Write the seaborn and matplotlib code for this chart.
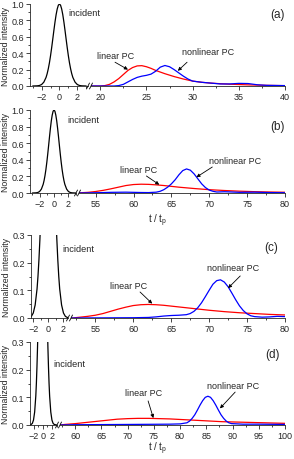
import matplotlib
matplotlib.use("Agg")
import matplotlib.pyplot as plt
from matplotlib.lines import Line2D
from matplotlib.ticker import MultipleLocator, FormatStrFormatter
import seaborn as sns

# incident pulse (same in every panel)
inc_t = [-3.0, -2.5, -2.25, -2.0, -1.75, -1.5, -1.375, -1.25, -1.125, -1.0, -0.875, -0.75,
         -0.625, -0.5, -0.375, -0.25, -0.125, 0.0, 0.125, 0.25, 0.375, 0.5, 0.625, 0.75,
         0.875, 1.0, 1.125, 1.25, 1.375, 1.5, 1.75, 2.0, 2.25, 2.5, 3.0]
inc_v = [0.0, 0.002, 0.006, 0.018, 0.047, 0.105, 0.151, 0.21, 0.282, 0.368, 0.465, 0.57,
         0.677, 0.779, 0.869, 0.939, 0.985, 1.0, 0.985, 0.939, 0.869, 0.779, 0.677, 0.57,
         0.465, 0.368, 0.282, 0.21, 0.151, 0.105, 0.047, 0.018, 0.006, 0.002, 0.0]

# (a)
lin_a_t = [19.0, 20.0, 20.5, 21.0, 21.5, 22.0, 22.5, 23.0, 23.5, 24.0, 24.5, 25.0, 25.5, 26.0,
           27.0, 28.0, 29.0, 30.0, 31.0, 32.0, 33.0, 34.0, 35.0, 36.0, 38.0, 40.0]
lin_a_v = [0.0, 0.0, 0.005, 0.02, 0.05, 0.09, 0.14, 0.19, 0.225, 0.245, 0.248, 0.235, 0.215, 0.19,
           0.15, 0.115, 0.085, 0.06, 0.045, 0.035, 0.028, 0.022, 0.018, 0.014, 0.008, 0.004]
non_a_t = [19.0, 21.5, 22.0, 22.5, 23.0, 23.5, 24.0, 24.5, 25.0, 25.5, 26.0, 26.5, 27.0, 27.5,
           28.0, 28.5, 29.0, 29.5, 30.0, 31.0, 32.0, 33.0, 34.0, 35.0, 36.0, 37.0, 38.0, 40.0]
non_a_v = [0.0, 0.0, 0.005, 0.02, 0.05, 0.08, 0.105, 0.12, 0.13, 0.145, 0.18, 0.23, 0.25, 0.235,
           0.2, 0.16, 0.12, 0.085, 0.06, 0.045, 0.035, 0.025, 0.025, 0.032, 0.03, 0.015, 0.008, 0.005]

# (b)
lin_b_t = [52.8, 53.0, 54.0, 55.0, 56.0, 57.0, 58.0, 59.0, 60.0, 61.0, 62.0, 63.0, 64.0, 65.0,
           66.0, 67.0, 68.0, 69.0, 70.0, 72.0, 74.0, 76.0, 78.0, 80.0]
lin_b_v = [0.002, 0.003, 0.008, 0.018, 0.032, 0.05, 0.07, 0.09, 0.102, 0.106, 0.104, 0.098, 0.09, 0.08,
           0.07, 0.062, 0.054, 0.047, 0.04, 0.03, 0.022, 0.016, 0.012, 0.009]
non_b_t = [52.8, 55.0, 57.0, 59.0, 61.0, 62.0, 63.0, 63.5, 64.0, 64.5, 65.0, 65.5, 66.0, 66.5,
           67.0, 67.5, 68.0, 68.5, 69.0, 69.5, 70.0, 70.5, 71.0, 72.0, 73.0, 74.0, 76.0, 78.0, 80.0]
non_b_v = [0.0, 0.003, 0.008, 0.01, 0.006, 0.005, 0.01, 0.02, 0.04, 0.07, 0.11, 0.16, 0.22, 0.27,
           0.29, 0.275, 0.23, 0.17, 0.11, 0.065, 0.035, 0.02, 0.012, 0.015, 0.012, 0.008, 0.01, 0.005, 0.003]

# (c)
lin_c_t = [51.8, 52.0, 53.0, 54.0, 55.0, 56.0, 57.0, 58.0, 59.0, 60.0, 61.0, 62.0, 63.0, 64.0,
           65.0, 66.0, 67.0, 68.0, 69.0, 70.0, 72.0, 74.0, 76.0, 78.0, 80.0]
lin_c_v = [0.0, 0.0, 0.003, 0.006, 0.01, 0.016, 0.024, 0.032, 0.039, 0.045, 0.048, 0.049, 0.048, 0.046,
           0.043, 0.04, 0.037, 0.034, 0.031, 0.028, 0.023, 0.019, 0.016, 0.013, 0.011]
non_c_t = [51.8, 60.0, 62.0, 63.0, 64.0, 65.0, 66.0, 67.0, 67.5, 68.0, 68.5, 69.0, 69.5, 70.0,
           70.5, 71.0, 71.5, 72.0, 72.5, 73.0, 73.5, 74.0, 74.5, 75.0, 75.5, 76.0, 77.0, 78.0, 79.0, 80.0]
non_c_v = [0.0, 0.001, 0.002, 0.004, 0.007, 0.009, 0.01, 0.012, 0.016, 0.024, 0.037, 0.055, 0.077, 0.1,
           0.122, 0.135, 0.138, 0.13, 0.113, 0.09, 0.066, 0.044, 0.027, 0.015, 0.008, 0.005, 0.003, 0.004,
           0.006, 0.005]

# (d)
lin_d_t = [57.1, 58.0, 60.0, 62.0, 64.0, 66.0, 68.0, 70.0, 72.0, 74.0, 76.0, 78.0, 80.0, 82.0,
           84.0, 86.0, 88.0, 90.0, 92.0, 94.0, 96.0, 98.0, 100.0]
lin_d_v = [0.0, 0.002, 0.005, 0.009, 0.013, 0.017, 0.021, 0.023, 0.024, 0.024, 0.023, 0.022, 0.02, 0.018,
           0.016, 0.014, 0.012, 0.011, 0.01, 0.009, 0.008, 0.007, 0.006]
non_d_t = [57.1, 60.0, 70.0, 78.0, 80.0, 81.3, 81.8, 82.3, 82.8, 83.3, 83.8, 84.3, 84.8, 85.3, 85.8,
           86.3, 86.8, 87.3, 87.8, 88.3, 88.8, 89.3, 89.8, 92.0, 95.0, 100.0]
non_d_v = [0.0, 0.001, 0.002, 0.003, 0.004, 0.008, 0.014, 0.024, 0.037, 0.054, 0.072, 0.088, 0.1, 0.104,
           0.1, 0.088, 0.072, 0.054, 0.037, 0.024, 0.014, 0.008, 0.005, 0.003, 0.003, 0.002]

W, H = 294, 460

sns.set_style("ticks")
plt.rcParams["font.family"] = ["Liberation Sans", "DejaVu Sans"]
plt.rcParams["mathtext.default"] = "regular"

fig = plt.figure(figsize=(W / 100, H / 100), dpi=100)
fig.patch.set_facecolor("white")


def px_rect(x0, x1, ytop, ybot):
    return [x0 / W, 1 - ybot / H, (x1 - x0) / W, (ybot - ytop) / H]


def style_ax(ax):
    ax.set_facecolor("none")
    for s in ["top", "right"]:
        ax.spines[s].set_visible(False)
    for s in ["left", "bottom"]:
        ax.spines[s].set_linewidth(0.6)
    ax.tick_params(which="both", direction="out", width=0.6, labelsize=6.5, pad=1.5)
    ax.tick_params(which="major", length=3)
    ax.tick_params(which="minor", length=1.5)
    ax.set_xlabel("")
    ax.set_ylabel("")


panels = [
    dict(lab="(a)", top=5, bot=87, lx=(30, 88), rx=(91, 285), lxlim=(-3.3, 3.2), rxlim=(19.0, 40),
         ylim=(0, 1.0), ymaj=0.2, rmaj=5, lin=(lin_a_t, lin_a_v), non=(non_a_t, non_a_v),
         inc_txt=(0.98, 0.9), lab_pos=(40, 0.878),
         lin_txt=(19.7, 0.366), lin_tail=(21.6, 0.29), lin_head=(23.0, 0.20),
         non_txt=(28.9, 0.415), non_tail=(29.4, 0.29), non_head=(28.4, 0.185), xlab=None),
    dict(lab="(b)", top=111, bot=194, lx=(30, 76), rx=(79, 285), lxlim=(-3.33, 3.05), rxlim=(52.8, 80),
         ylim=(0, 1.0), ymaj=0.2, rmaj=5, lin=(lin_b_t, lin_b_v), non=(non_b_t, non_b_v),
         inc_txt=(1.8, 0.88), lab_pos=(80, 0.81),
         lin_txt=(58.2, 0.289), lin_tail=(61.7, 0.205), lin_head=(63.4, 0.1),
         non_txt=(70.0, 0.386), non_tail=(70.4, 0.313), non_head=(68.3, 0.19), xlab=221),
    dict(lab="(c)", top=236, bot=319, lx=(31, 68), rx=(71, 285), lxlim=(-2.3, 2.6), rxlim=(51.8, 80),
         ylim=(0, 0.3), ymaj=0.1, rmaj=5, lin=(lin_c_t, lin_c_v), non=(non_c_t, non_c_v),
         inc_txt=(1.83, 0.253), lab_pos=(79.1, 0.257),
         lin_txt=(57.0, 0.119), lin_tail=(60.9, 0.094), lin_head=(62.5, 0.052),
         non_txt=(69.7, 0.181), non_tail=(74.1, 0.152), non_head=(72.5, 0.108), xlab=None),
    dict(lab="(d)", top=343, bot=426, lx=(30, 57), rx=(60, 285), lxlim=(-2.76, 3.1), rxlim=(57.1, 100),
         ylim=(0, 0.3), ymaj=0.1, rmaj=5, lin=(lin_d_t, lin_d_v), non=(non_d_t, non_d_v),
         inc_txt=(2.24, 0.224), lab_pos=(99, 0.257),
         lin_txt=(69.5, 0.119), lin_tail=(73.9, 0.087), lin_head=(74.9, 0.025),
         non_txt=(85.1, 0.141), non_tail=(90.5, 0.119), non_head=(87.6, 0.06), xlab=449),
]

arrow = dict(arrowstyle="-|>", color="black", lw=0.6, mutation_scale=5, shrinkA=0, shrinkB=0)
txt_kw = dict(fontsize=6.5, va="center", ha="left")

for p in panels:
    axl = fig.add_axes(px_rect(p["lx"][0], p["lx"][1], p["top"], p["bot"]))
    axr = fig.add_axes(px_rect(p["rx"][0], p["rx"][1], p["top"], p["bot"]))

    sns.lineplot(x=inc_t, y=inc_v, ax=axl, color="black", lw=0.9, legend=False)
    sns.lineplot(x=p["lin"][0], y=p["lin"][1], ax=axr, color="#ff0000", lw=0.9, legend=False)
    sns.lineplot(x=p["non"][0], y=p["non"][1], ax=axr, color="#0000ff", lw=0.9, legend=False)

    for ax in (axl, axr):
        style_ax(ax)
        ax.set_ylim(*p["ylim"])
    axl.set_xlim(*p["lxlim"])
    axr.set_xlim(*p["rxlim"])

    axl.xaxis.set_major_locator(MultipleLocator(2))
    axl.xaxis.set_minor_locator(MultipleLocator(1))
    axl.yaxis.set_major_locator(MultipleLocator(p["ymaj"]))
    axl.yaxis.set_minor_locator(MultipleLocator(p["ymaj"] / 2))
    axl.yaxis.set_major_formatter(FormatStrFormatter("%.1f"))
    axl.set_ylabel("Normalized intensity", fontsize=6.3, labelpad=1)

    axr.spines["left"].set_visible(False)
    axr.set_yticks([])
    axr.xaxis.set_major_locator(MultipleLocator(p["rmaj"]))
    axr.xaxis.set_minor_locator(MultipleLocator(p["rmaj"] / 2))

    # break marks on the x axis
    for xb in (p["lx"][1], p["rx"][0]):
        fig.add_artist(Line2D([(xb - 1.5) / W, (xb + 1.5) / W],
                              [1 - (p["bot"] + 3) / H, 1 - (p["bot"] - 3) / H],
                              transform=fig.transFigure, color="black", lw=0.6))

    axl.text(*p["inc_txt"], "incident", fontsize=6.7, va="center", ha="left", zorder=10)
    axr.text(*p["lab_pos"], p["lab"], fontsize=8.5, va="center", ha="right")
    axr.text(*p["lin_txt"], "linear PC", **txt_kw)
    axr.text(*p["non_txt"], "nonlinear PC", **txt_kw)
    axr.annotate("", xy=p["lin_head"], xytext=p["lin_tail"], arrowprops=arrow)
    axr.annotate("", xy=p["non_head"], xytext=p["non_tail"], arrowprops=arrow)

    if p["xlab"]:
        fig.text(158 / W, 1 - p["xlab"] / H, "t / t$_{p}$", fontsize=7, ha="center", va="center")

fig.savefig("out.png", dpi=100, facecolor="white")
